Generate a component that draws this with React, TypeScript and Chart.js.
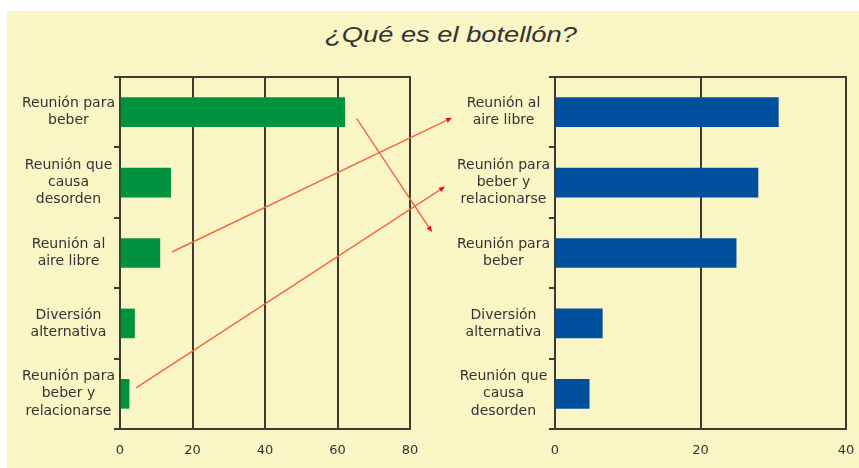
import React, { useEffect, useRef } from 'react';
import { Chart, registerables } from 'chart.js';

Chart.register(...registerables);

// ---- data ----
const TITLE = '¿Qué es el botellón?';

const leftCategories: string[][] = [
  ['Reunión para', 'beber'],
  ['Reunión que', 'causa', 'desorden'],
  ['Reunión al', 'aire libre'],
  ['Diversión', 'alternativa'],
  ['Reunión para', 'beber y', 'relacionarse'],
];
const leftValues = [62, 14, 11, 4, 2.5];
const leftTicks = [0, 20, 40, 60, 80];

const rightCategories: string[][] = [
  ['Reunión al', 'aire libre'],
  ['Reunión para', 'beber y', 'relacionarse'],
  ['Reunión para', 'beber'],
  ['Diversión', 'alternativa'],
  ['Reunión que', 'causa', 'desorden'],
];
const rightValues = [30.7, 27.9, 24.9, 6.5, 4.7];
const rightTicks = [0, 20, 40];

// arrows link a left category (index) to a right category (index)
const arrowFrom = [0, 2, 4];
const arrowTo = [2, 0, 1];

// ---- styles ----
const BG = '#faf5c5';
const LINE = '#3d3a34';
const TEXT = '#333333';
const GREEN = '#00923f';
const BLUE = '#00509e';
const FONT = '"DejaVu Sans", sans-serif';
const ARROW_LINE = '#f06a3e';
const ARROW_HEAD = '#e3101f';
// hand-drawn arrow nudges (start dx, start dy, end dx from plot-left of right chart, end dy)
const ARROW_NUDGE = [
  [12, 6.5, -123, -21],
  [12, -1, -103, 5.5],
  [7, -6, -110, 4],
];

const framePlugin = {
  id: 'frame',
  afterDraw(chart: any) {
    const { ctx, chartArea } = chart;
    ctx.save();
    ctx.strokeStyle = LINE;
    ctx.lineWidth = 2;
    ctx.beginPath();
    ctx.moveTo(chartArea.left, chartArea.top);
    ctx.lineTo(chartArea.right, chartArea.top);
    ctx.lineTo(chartArea.right, chartArea.bottom);
    ctx.stroke();
    ctx.restore();
  },
};

function makeConfig(
  labels: string[][],
  values: number[],
  color: string,
  ticks: number[],
  yWidth: number,
  padRight: number,
  gridOnTop: boolean
): any {
  const max = ticks[ticks.length - 1];
  const step = ticks[1] - ticks[0];
  return {
    type: 'bar',
    data: {
      labels,
      datasets: [
        {
          data: values,
          backgroundColor: color,
          borderWidth: 0,
          barThickness: 29,
        },
      ],
    },
    plugins: [framePlugin],
    options: {
      indexAxis: 'y',
      responsive: false,
      animation: false,
      events: [],
      layout: { padding: { top: 17, right: padRight, bottom: 4, left: 0 } },
      plugins: { legend: { display: false }, tooltip: { enabled: false }, title: { display: false } },
      scales: {
        x: {
          type: 'linear',
          min: 0,
          max,
          z: gridOnTop ? 1 : 0,
          afterFit: (s: any) => {
            s.height = 35;
            s.paddingLeft = 0;
            s.paddingRight = 0;
          },
          afterBuildTicks: (s: any) => {
            s.ticks = ticks.map((v) => ({ value: v }));
          },
          ticks: {
            stepSize: step,
            color: TEXT,
            padding: 14,
            font: { family: FONT, size: 13 },
          },
          grid: {
            color: LINE,
            lineWidth: 2,
            drawTicks: false,
          },
          border: { display: true, color: LINE, width: 2 },
        },
        y: {
          type: 'category',
          afterFit: (s: any) => {
            s.width = yWidth;
            s.paddingTop = 0;
            s.paddingBottom = 0;
          },
          ticks: {
            crossAlign: 'center',
            color: TEXT,
            padding: -1,
            font: { family: FONT, size: 14, lineHeight: 1.22 },
          },
          grid: {
            offset: true,
            drawOnChartArea: false,
            drawTicks: true,
            tickLength: 6,
            color: LINE,
            lineWidth: 2,
          },
          border: { display: true, color: LINE, width: 2 },
        },
      },
    },
  };
}

const LEFT_POS = { left: 7, top: 60, width: 423, height: 408 };
const RIGHT_POS = { left: 430, top: 60, width: 429, height: 408 };

export default function App() {
  const leftRef = useRef<HTMLCanvasElement>(null);
  const rightRef = useRef<HTMLCanvasElement>(null);
  const overlayRef = useRef<HTMLCanvasElement>(null);

  useEffect(() => {
    document.body.style.margin = '0';
    const L = new Chart(leftRef.current!, makeConfig(leftCategories, leftValues, GREEN, leftTicks, 113, 20, false));
    const R = new Chart(rightRef.current!, makeConfig(rightCategories, rightValues, BLUE, rightTicks, 125, 13, true));

    const ov = overlayRef.current!;
    const ctx = ov.getContext('2d')!;
    ctx.clearRect(0, 0, ov.width, ov.height);
    arrowFrom.forEach((fi, k) => {
      const ti = arrowTo[k];
      const [sdx, sdy, edx, edy] = ARROW_NUDGE[k];
      const x1 = LEFT_POS.left + L.scales.x.getPixelForValue(leftValues[fi]) + sdx;
      const y1 = LEFT_POS.top + L.scales.y.getPixelForValue(fi) + sdy;
      const x2 = RIGHT_POS.left + R.chartArea.left + edx;
      const y2 = RIGHT_POS.top + R.scales.y.getPixelForValue(ti) + edy;
      const ang = Math.atan2(y2 - y1, x2 - x1);
      const hl = 6;
      const hw = 2.6;
      const bx = x2 - hl * Math.cos(ang);
      const by = y2 - hl * Math.sin(ang);
      ctx.strokeStyle = ARROW_LINE;
      ctx.lineWidth = 1.4;
      ctx.beginPath();
      ctx.moveTo(x1, y1);
      ctx.lineTo(bx, by);
      ctx.stroke();
      ctx.fillStyle = ARROW_HEAD;
      ctx.beginPath();
      ctx.moveTo(x2, y2);
      ctx.lineTo(bx - hw * Math.sin(ang), by + hw * Math.cos(ang));
      ctx.lineTo(bx + hw * Math.sin(ang), by - hw * Math.cos(ang));
      ctx.closePath();
      ctx.fill();
    });

    return () => {
      L.destroy();
      R.destroy();
    };
  }, []);

  return (
    <div style={{ position: 'relative', width: 859, height: 468, background: '#fff', overflow: 'hidden' }}>
      <div style={{ position: 'absolute', left: 7, top: 11, right: 0, bottom: 0, background: BG }} />
      <div
        style={{
          position: 'absolute',
          left: 451,
          top: 22,
          whiteSpace: 'nowrap',
          transform: 'translateX(-50%) scaleX(1.24)',
          font: 'italic 22px "Liberation Sans", Arial, sans-serif',
          lineHeight: '25px',
          color: '#333',
        }}
      >
        {TITLE}
      </div>
      <canvas
        ref={leftRef}
        width={LEFT_POS.width}
        height={LEFT_POS.height}
        style={{ position: 'absolute', left: LEFT_POS.left, top: LEFT_POS.top, width: LEFT_POS.width, height: LEFT_POS.height }}
      />
      <canvas
        ref={rightRef}
        width={RIGHT_POS.width}
        height={RIGHT_POS.height}
        style={{ position: 'absolute', left: RIGHT_POS.left, top: RIGHT_POS.top, width: RIGHT_POS.width, height: RIGHT_POS.height }}
      />
      <canvas
        ref={overlayRef}
        width={859}
        height={468}
        style={{ position: 'absolute', left: 0, top: 0, width: 859, height: 468, pointerEvents: 'none' }}
      />
    </div>
  );
}
